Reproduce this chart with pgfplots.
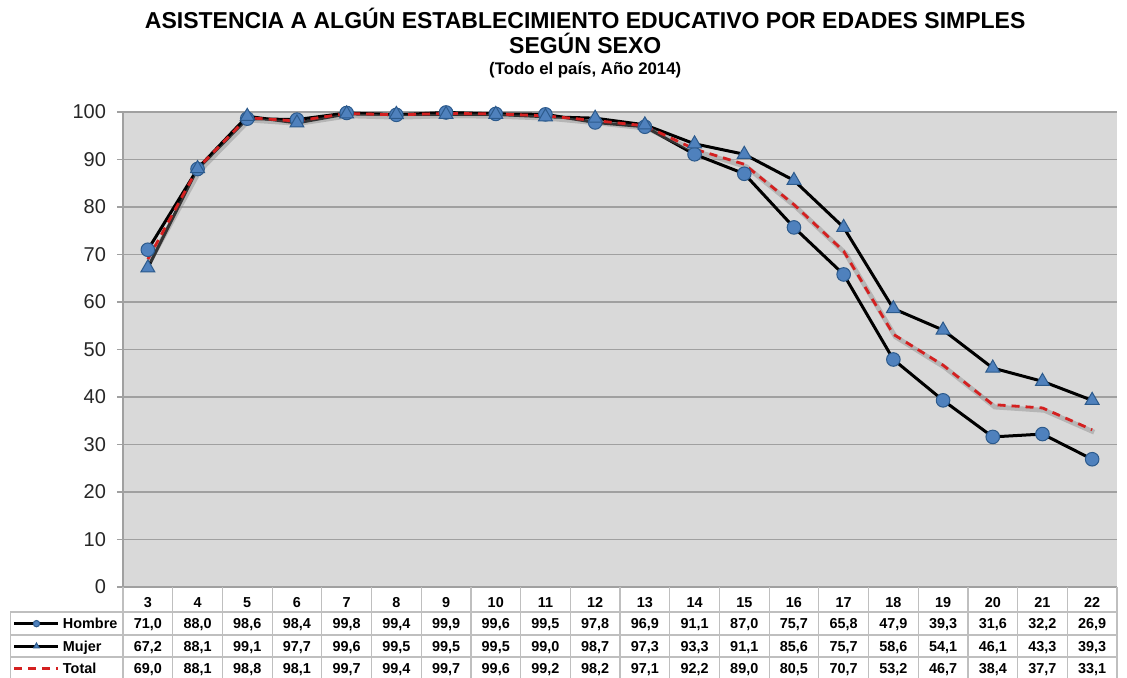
\documentclass[border=0pt]{standalone}
\usepackage{fontspec}
\setmainfont{Liberation Sans}
\usepackage{pgfplots}
\pgfplotsset{compat=1.18}
\usepackage{pgfplotstable}
\usetikzlibrary{calc}

\definecolor{plotbg}{HTML}{D9D9D9}
\definecolor{gridc}{HTML}{A0A0A0}
\definecolor{tabc}{HTML}{BFBFBF}
\definecolor{markblue}{HTML}{4F81BD}
\definecolor{markedge}{HTML}{2C5A8C}
\definecolor{totred}{HTML}{D42020}

\pgfplotstableread{
age hombre mujer total
3  71.0 67.2 69.0
4  88.0 88.1 88.1
5  98.6 99.1 98.8
6  98.4 97.7 98.1
7  99.8 99.6 99.7
8  99.4 99.5 99.4
9  99.9 99.5 99.7
10 99.6 99.5 99.6
11 99.5 99.0 99.2
12 97.8 98.7 98.2
13 96.9 97.3 97.1
14 91.1 93.3 92.2
15 87.0 91.1 89.0
16 75.7 85.6 80.5
17 65.8 75.7 70.7
18 47.9 58.6 53.2
19 39.3 54.1 46.7
20 31.6 46.1 38.4
21 32.2 43.3 37.7
22 26.9 39.3 33.1
}\datatable

\newcommand{\tabfont}{\bfseries\fontsize{7.2}{8}\selectfont}
\tikzset{tabnode/.style={anchor=center, font=\tabfont, text=black, text height=5.2pt, text depth=0pt, inner sep=0pt}}

\begin{document}
\begin{tikzpicture}
\begin{axis}[name=ax,
  scale only axis, width=497pt, height=237.5pt,
  xmin=2.5, xmax=22.5, ymin=0, ymax=100,
  ytick={0,10,...,100}, xtick=\empty,
  axis background/.style={fill=plotbg},
  ymajorgrids, grid style={gridc, line width=0.6pt},
  axis lines*=left, axis line style={gridc, line width=0.6pt},
  tick align=outside, major tick length=3pt, ytick style={gridc, line width=0.6pt},
  y tick label style={font=\fontsize{10}{12}\selectfont, text=black!85, xshift=-2pt},
  /pgf/number format/assume math mode=true,
  clip=false,
  legend cell align=left,
  legend image code/.code={\draw[mark repeat=2,mark phase=2,#1, mark size=1.6pt] plot coordinates {(0pt,0pt)(11pt,0pt)(22pt,0pt)};},
  legend style={at={(axis cs:0.23,-5.26)}, anchor=north west, xshift=1.2pt,
    draw=none, fill=none, inner sep=0pt, row sep=0pt,
    font=\tabfont, nodes={minimum height=11.25pt, text height=5.2pt, text depth=0pt, inner ysep=0pt, inner xsep=1.5pt}},
]
% table grid
\pgfplotsinvokeforeach{2.5,3.5,...,22.5}{\draw[tabc, line width=0.6pt] (axis cs:#1,0) -- (axis cs:#1,-19.5);}
\draw[tabc, line width=0.6pt] (axis cs:0.23,-5.26) -- (axis cs:22.5,-5.26);
\draw[tabc, line width=0.6pt] (axis cs:0.23,-10.1) -- (axis cs:22.5,-10.1);
\draw[tabc, line width=0.6pt] (axis cs:0.23,-14.74) -- (axis cs:22.5,-14.74);
\draw[tabc, line width=0.6pt] (axis cs:0.23,-5.26) -- (axis cs:0.23,-19.5);

\addplot[black, line width=1.5pt, mark=*, mark size=3.4pt,
  mark options={fill=markblue, draw=markedge, line width=0.5pt, solid}]
  table[x=age, y=hombre]{\datatable};
\addlegendentry{Hombre}
\addplot[black, line width=1.5pt, mark=triangle*, mark size=4pt,
  mark options={fill=markblue, draw=markedge, line width=0.5pt, solid}]
  table[x=age, y=mujer]{\datatable};
\addlegendentry{Mujer}
\addplot[forget plot, gray, opacity=0.4, line width=2.4pt, xshift=1pt, yshift=-1.2pt]
  table[x=age, y=total]{\datatable};
\addplot[totred, line width=1.4pt, dash pattern=on 4pt off 3pt]
  table[x=age, y=total]{\datatable};
\addlegendentry{Total}

% table contents
\addplot[forget plot, draw=none, mark=none,
  nodes near coords={\pgfmathprintnumber[fixed, precision=0, assume math mode=true]{\pgfplotspointmeta}},
  point meta=explicit,
  every node near coord/.style={tabnode}]
  table[x=age, y expr=-3.16, meta=age]{\datatable};
\addplot[forget plot, draw=none, mark=none,
  nodes near coords={\pgfmathprintnumber[fixed, fixed zerofill, precision=1, use comma, assume math mode=true]{\pgfplotspointmeta}},
  point meta=explicit,
  every node near coord/.style={tabnode}]
  table[x=age, y expr=-7.58, meta=hombre]{\datatable};
\addplot[forget plot, draw=none, mark=none,
  nodes near coords={\pgfmathprintnumber[fixed, fixed zerofill, precision=1, use comma, assume math mode=true]{\pgfplotspointmeta}},
  point meta=explicit,
  every node near coord/.style={tabnode}]
  table[x=age, y expr=-12.42, meta=mujer]{\datatable};
\addplot[forget plot, draw=none, mark=none,
  nodes near coords={\pgfmathprintnumber[fixed, fixed zerofill, precision=1, use comma, assume math mode=true]{\pgfplotspointmeta}},
  point meta=explicit,
  every node near coord/.style={tabnode}]
  table[x=age, y expr=-17.05, meta=total]{\datatable};

% titles
\node[font=\bfseries\fontsize{11.5}{13}\selectfont] at ([yshift=47pt]rel axis cs:0.465,1) {ASISTENCIA A ALGÚN ESTABLECIMIENTO EDUCATIVO POR EDADES SIMPLES};
\node[font=\bfseries\fontsize{11.5}{13}\selectfont] at ([yshift=34.5pt]rel axis cs:0.465,1) {SEGÚN SEXO};
\node[font=\bfseries\fontsize{8.4}{10}\selectfont] at ([yshift=21pt]rel axis cs:0.465,1) {(Todo el país, Año 2014)};
\end{axis}
\pgfresetboundingbox
\path ($(ax.south west)+(-61.5pt,-45pt)$) rectangle ($(ax.north east)+(5pt,56pt)$);
\end{tikzpicture}
\end{document}
